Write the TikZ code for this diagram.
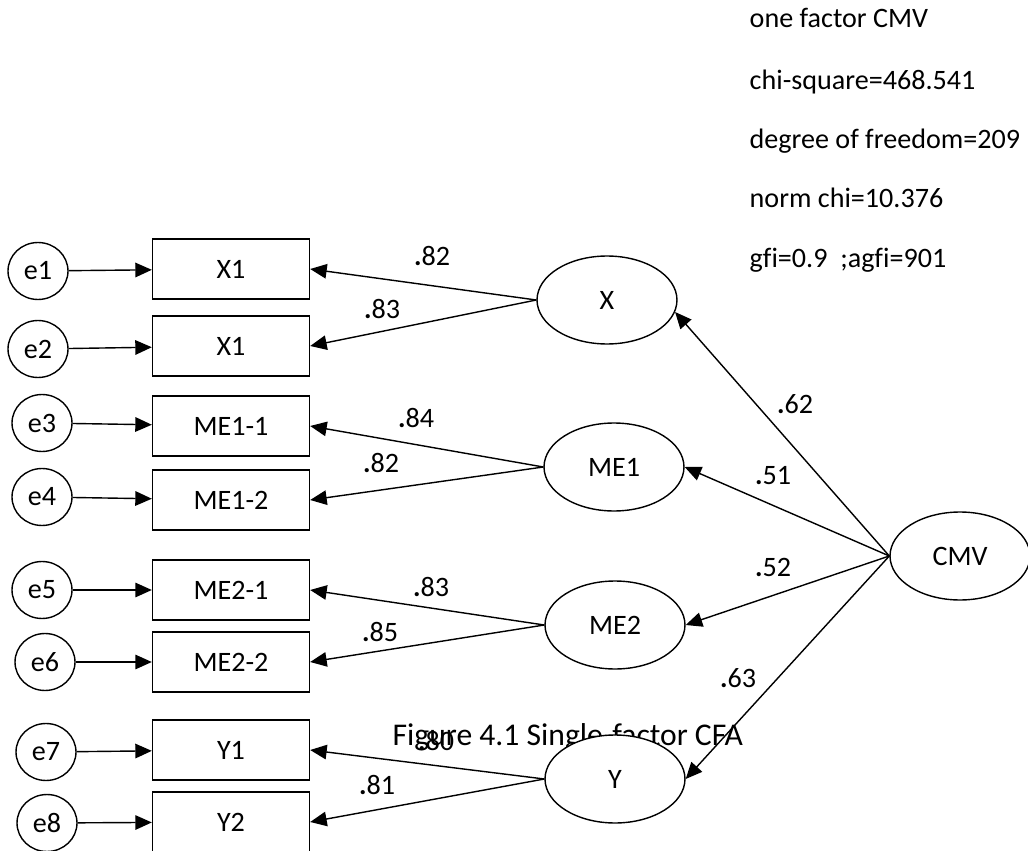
\documentclass[tikz,border=0pt]{standalone}
\usepackage{fontspec}
\setmainfont[Ligatures=NoCommon]{Carlito}
\usepackage{tikz}
\usetikzlibrary{shapes,arrows.meta,positioning}
\tikzstyle{err} = [ellipse, draw=black, minimum width=1.2cm, minimum height=1.14cm, inner sep=0pt]
\tikzstyle{obs} = [rectangle, draw=black, minimum width=3.14cm, minimum height=1.2cm, text centered]
\tikzstyle{latent} = [ellipse, draw=black, fill=white, minimum width=2.8cm, minimum height=1.76cm, inner sep=0pt]
\tikzstyle{arrow} = [-{Triangle[length=3.3mm,width=2.9mm]}]
\tikzstyle{stat} = [anchor=base west, inner sep=0pt]

\begin{document}
\begin{tikzpicture}[x=0.02cm, y=-0.02cm, line width=0.8pt, font=\fontsize{16}{19}\selectfont]
  \useasboundingbox (0,0) rectangle (1028,851);
  % fit indices
  \node[stat] (s1) at (749,28) {one factor CMV};
  \node[stat] (s2) at (749,90) {chi-square=468.541};
  \node[stat] (s3) at (749,149) {degree of freedom=209};
  \node[stat] (s4) at (749,208) {norm chi=10.376};
  \node[stat] (s5) at (749,268) {gfi=0.9~~;agfi=901};
  % caption (lies under the Y oval)
  \node[anchor=west, inner sep=0pt, font=\fontsize{18}{21}\selectfont] (cap) at (392,737) {Figure 4.1 Single-factor CFA};
  % error terms
  \node[err] (e1) at (38,271) {e1};
  \node[err] (e2) at (38,349) {e2};
  \node[err] (e3) at (42,423) {e3};
  \node[err] (e4) at (42,497) {e4};
  \node[err] (e5) at (42,590) {e5};
  \node[err] (e6) at (45,662) {e6};
  \node[err] (e7) at (46,752) {e7};
  \node[err] (e8) at (47,823) {e8};
  % indicators
  \node[obs] (x1a) at (231,269) {X1};
  \node[obs] (x1b) at (231,346) {X1};
  \node[obs] (me11) at (231,426) {ME1-1};
  \node[obs] (me12) at (231,500) {ME1-2};
  \node[obs] (me21) at (231,590) {ME2-1};
  \node[obs] (me22) at (231,662) {ME2-2};
  \node[obs] (y1) at (231,750) {Y1};
  \node[obs] (y2) at (231,822) {Y2};
  % latent variables
  \node[latent] (x) at (607,300) {X};
  \node[latent] (me1) at (614,467) {ME1};
  \node[latent] (me2) at (615,625) {ME2};
  \node[latent] (y) at (615,779) {Y};
  \node[latent] (cmv) at (960,556) {CMV};
  % error paths
  \draw[arrow](e1) -- (x1a);
  \draw[arrow](e2) -- (x1b);
  \draw[arrow](e3) -- (me11);
  \draw[arrow](e4) -- (me12);
  \draw[arrow](e5) -- (me21);
  \draw[arrow](e6) -- (me22);
  \draw[arrow](e7) -- (y1);
  \draw[arrow](e8) -- (y2);
  % loadings
  \draw[arrow](x.west) -- (x1a.east);
  \draw[arrow](x.west) -- (x1b.east);
  \draw[arrow](me1.west) -- (me11.east);
  \draw[arrow](me1.west) -- (me12.east);
  \draw[arrow](me2.west) -- (me21.east);
  \draw[arrow](me2.west) -- (me22.east);
  \draw[arrow](y.west) -- (y1.east);
  \draw[arrow](y.west) -- (y2.east);
  \draw[arrow](cmv.west) -- (x.-10);
  \draw[arrow](cmv.west) -- (me1.east);
  \draw[arrow](cmv.west) -- (me2.east);
  \draw[arrow](cmv.west) -- (y.east);
  % coefficients
  \node (l1) at (432,256) {{\bfseries .}82};
  \node (l2) at (382,309) {{\bfseries .}83};
  \node (l3) at (416,418) {{\bfseries .}84};
  \node (l4) at (381,463) {{\bfseries .}82};
  \node (l5) at (431,587) {{\bfseries .}83};
  \node (l6) at (380,632) {{\bfseries .}85};
  \node (l7) at (436,741) {{\bfseries .}80};
  \node (l8) at (377,785) {{\bfseries .}81};
  \node (l9) at (795,404) {{\bfseries .}62};
  \node (l10) at (773,476) {{\bfseries .}51};
  \node (l11) at (773,567) {{\bfseries .}52};
  \node (l12) at (738,678) {{\bfseries .}63};
\end{tikzpicture}
\end{document}
